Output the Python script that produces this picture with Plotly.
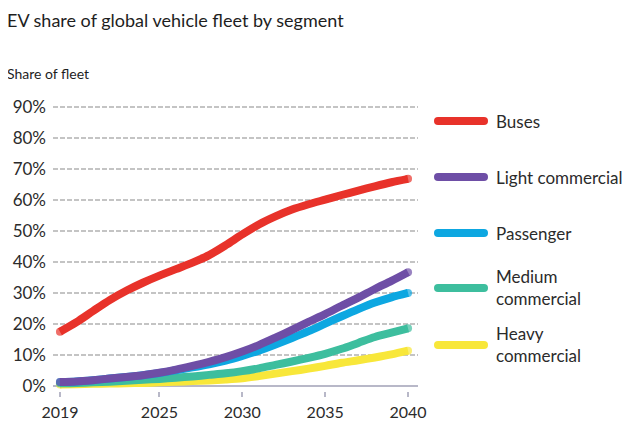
import plotly.graph_objects as go

years = list(range(2019, 2041))
segments = ["Buses", "Light commercial", "Passenger", "Medium<br>commercial", "Heavy<br>commercial"]
colors = ["#e8322a", "#6e4ea6", "#0da7e1", "#3dbe9e", "#f8e73a"]

buses = [17.6, 20.7, 24.3, 27.8, 30.8, 33.4, 35.7, 37.8, 39.9, 42.3, 45.5, 49.0, 52.2, 54.8, 57.0, 58.7, 60.2, 61.7, 63.1, 64.5, 65.8, 66.9]
light = [1.4, 1.6, 2.0, 2.5, 3.0, 3.6, 4.4, 5.4, 6.6, 7.9, 9.4, 11.2, 13.3, 15.7, 18.2, 20.8, 23.3, 26.0, 28.6, 31.4, 34.0, 36.8]
passenger = [1.4, 1.6, 2.0, 2.5, 3.0, 3.6, 4.3, 5.2, 6.1, 7.1, 8.3, 9.8, 11.5, 13.5, 15.6, 17.8, 20.2, 22.6, 24.9, 27.0, 28.7, 30.1]
medium = [1.0, 1.1, 1.3, 1.5, 1.8, 2.1, 2.4, 2.8, 3.2, 3.7, 4.2, 4.9, 5.8, 6.9, 8.0, 9.2, 10.5, 12.1, 14.0, 15.9, 17.3, 18.7]
heavy = [0.6, 0.7, 0.8, 0.9, 1.0, 1.1, 1.3, 1.5, 1.7, 1.9, 2.2, 2.6, 3.3, 4.1, 4.9, 5.7, 6.6, 7.6, 8.4, 9.3, 10.3, 11.5]
series = [buses, light, passenger, medium, heavy]

y_ticks = list(range(0, 91, 10))
x_ticks = [2019, 2025, 2030, 2035, 2040]

FONT = "Lato"
TXT = "#2b2b2b"

OFF = 8  # page body margin
W, H = 635 - OFF, 433 - OFF
L, R, T, B = 45, 217, 93, 42
PW, PH = W - L - R, H - T - B

def px_x(px):
    return (px - OFF - L) / PW

def px_y(py):
    return (H - B - (py - OFF)) / PH

fig = go.Figure()
order = [4, 3, 2, 1, 0]
for i in order:
    vals = series[i]
    sizes = [8] + [0] * (len(vals) - 2) + [8]
    fig.add_trace(go.Scatter(
        x=years, y=vals, mode="lines+markers",
        line=dict(color=colors[i], width=8, shape="spline", smoothing=0.8),
        marker=dict(size=sizes, color=colors[i], line=dict(width=0)),
        name=segments[i].replace("<br>", " "),
        showlegend=False, hoverinfo="skip",
    ))

# custom legend
leg_y = [121, 177, 233, 288, 345]
for i, name in enumerate(segments):
    fig.add_shape(type="line", xref="paper", yref="paper",
                  x0=px_x(438), x1=px_x(484), y0=px_y(leg_y[i]), y1=px_y(leg_y[i]),
                  line=dict(color=colors[i], width=8))
    for cx in (438, 484):
        fig.add_shape(type="circle", xref="paper", yref="paper",
                      x0=px_x(cx - 4), x1=px_x(cx + 4), y0=px_y(leg_y[i] + 4), y1=px_y(leg_y[i] - 4),
                      fillcolor=colors[i], line=dict(width=0))
    fig.add_annotation(xref="paper", yref="paper", x=px_x(494),
                       y=px_y(leg_y[i] - (0 if "<br>" not in name else 1)),
                       text=name, showarrow=False, xanchor="left", yanchor="middle", align="left",
                       font=dict(family=FONT, size=17, color=TXT))

fig.add_annotation(xref="paper", yref="paper", x=px_x(5), y=px_y(20), text="EV share of global vehicle fleet by segment",
                   showarrow=False, xanchor="left", yanchor="middle", font=dict(family=FONT, size=18, color="#1e1e1e"))
fig.add_annotation(xref="paper", yref="paper", x=px_x(5), y=px_y(73), text="Share of fleet",
                   showarrow=False, xanchor="left", yanchor="middle", font=dict(family=FONT, size=14, color="#1e1e1e"))

fig.update_layout(
    width=W, height=H,
    margin=dict(l=L, r=R, t=T, b=B),
    paper_bgcolor="white", plot_bgcolor="white",
    showlegend=False,
    xaxis=dict(range=[2018.58, 2040.6], tickvals=x_ticks, ticktext=[str(v) for v in x_ticks],
               showgrid=False, zeroline=False, showline=False, automargin=False,
               ticks="outside", ticklen=5, tickwidth=1.5, tickcolor="#b8b8c8",
               tickfont=dict(family=FONT, size=16, color=TXT), ticklabelstandoff=2, fixedrange=True),
    yaxis=dict(range=[-1.5, 92], tickvals=y_ticks, ticktext=[f"{v}%" for v in y_ticks],
               showgrid=True, gridcolor="#c4c4c4", gridwidth=1.5, griddash="5px,2px",
               zeroline=True, zerolinecolor="#b8b8c8", zerolinewidth=1.5, showline=False, automargin=False,
               tickfont=dict(family=FONT, size=17, color=TXT), ticklabelstandoff=6, fixedrange=True),
)

fig.write_html("out.html")
